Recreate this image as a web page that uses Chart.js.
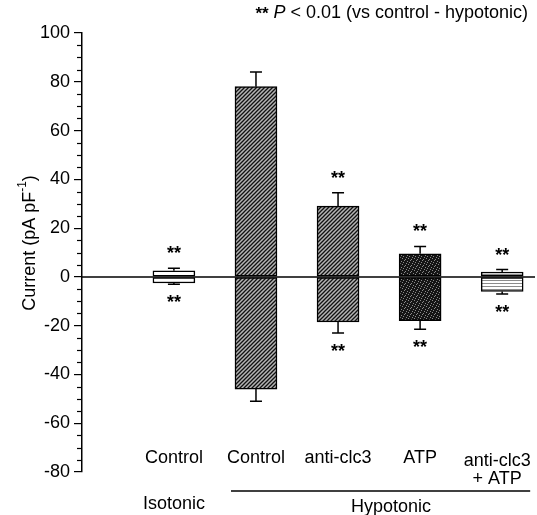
<!DOCTYPE html>
<html>
<head>
<meta charset="utf-8">
<script src="https://cdn.jsdelivr.net/npm/chart.js@4"></script>
<style>
  body { margin: 0; background: #fff; }
  #wrap { width: 537px; height: 515px; }
</style>
</head>
<body>
<div id="wrap"><canvas id="chart" width="537" height="515"></canvas></div>
<script>
const categories = ["Control", "Control", "anti-clc3", "ATP", ["anti-clc3", "+ ATP"]];
const outward = [2.5, 78, 29, 9.5, 2];
const outwardErr = [3.5, 84, 34.5, 12.5, 3];
const inward = [-2.5, -46, -18.5, -18, -6];
const inwardErr = [-3, -51, -23, -21.5, -7];
const significant = [true, false, true, true, true];
const yMin = -80, yMax = 100, yStep = 20, yMinor = 5;

const FONT = '"Liberation Sans", Arial, sans-serif';

function makePattern(kind) {
    const c = document.createElement("canvas");
    const ctx = c.getContext("2d");
    if (kind === "hatch") {
        c.width = 4; c.height = 4;
        ctx.fillStyle = "#b4b4b4";
        ctx.fillRect(0, 0, 4, 4);
        ctx.strokeStyle = "#111";
        ctx.lineWidth = 1.3;
        ctx.beginPath();
        ctx.moveTo(-1, 5); ctx.lineTo(5, -1);
        ctx.moveTo(-1, 1); ctx.lineTo(1, -1);
        ctx.moveTo(3, 5); ctx.lineTo(5, 3);
        ctx.stroke();
    } else if (kind === "dark") {
        c.width = 6; c.height = 6;
        ctx.fillStyle = "#151515";
        ctx.fillRect(0, 0, 6, 6);
        ctx.fillStyle = "#8a8a8a";
        [[0, 0], [3, 1], [5, 3], [1, 4], [4, 5], [2, 2]].forEach(p => ctx.fillRect(p[0], p[1], 1, 1));
    } else if (kind === "lines") {
        c.width = 4; c.height = 3;
        ctx.fillStyle = "#fff";
        ctx.fillRect(0, 0, 4, 3);
        ctx.fillStyle = "#8c8c8c";
        ctx.fillRect(0, 1, 4, 1);
    } else {
        return "#fff";
    }
    return ctx.createPattern(c, "repeat");
}

const fills = [makePattern("white"), makePattern("hatch"), makePattern("hatch"), makePattern("dark"), makePattern("lines")];

const extras = {
    id: "extras",
    afterDatasetsDraw(chart) {
        const { ctx, chartArea, scales: { x, y } } = chart;
        ctx.save();
        // zero line
        ctx.strokeStyle = "#000";
        ctx.lineWidth = 1.5;
        ctx.beginPath();
        ctx.moveTo(chartArea.left, y.getPixelForValue(0));
        ctx.lineTo(chartArea.right, y.getPixelForValue(0));
        ctx.stroke();

        // error bars + stars
        ctx.lineWidth = 1.5;
        ctx.font = "bold 18px " + FONT;
        ctx.textAlign = "center";
        ctx.textBaseline = "middle";
        ctx.fillStyle = "#000";
        categories.forEach((c, i) => {
            const px = x.getPixelForValue(i);
            [[outward[i], outwardErr[i]], [inward[i], inwardErr[i]]].forEach(([v, e]) => {
                const y0 = y.getPixelForValue(v), y1 = y.getPixelForValue(e);
                ctx.beginPath();
                ctx.moveTo(px, y0); ctx.lineTo(px, y1);
                ctx.moveTo(px - 6, y1); ctx.lineTo(px + 6, y1);
                ctx.stroke();
            });
            if (significant[i]) {
                ctx.fillText("**", px, y.getPixelForValue(outwardErr[i]) - 14);
                ctx.fillText("**", px, y.getPixelForValue(inwardErr[i]) + 19);
            }
        });
        ctx.restore();
    },
    afterDraw(chart) {
        const { ctx, chartArea, scales: { x, y } } = chart;
        ctx.save();
        ctx.fillStyle = "#000";
        ctx.strokeStyle = "#000";

        // minor ticks
        ctx.lineWidth = 1.2;
        for (let v = yMin; v <= yMax; v += yMinor) {
            if (v % yStep === 0) continue;
            const py = Math.round(y.getPixelForValue(v)) + 0.5;
            ctx.beginPath();
            ctx.moveTo(chartArea.left - 5, py);
            ctx.lineTo(chartArea.left, py);
            ctx.stroke();
        }

        // y title with superscript
        ctx.save();
        ctx.translate(30, 243);
        ctx.rotate(-Math.PI / 2);
        ctx.textBaseline = "middle";
        const a = "Current (pA pF", sup = "-1", b = ")";
        ctx.font = "18px " + FONT;
        const wa = ctx.measureText(a).width, wb = ctx.measureText(b).width;
        ctx.font = "12px " + FONT;
        const ws = ctx.measureText(sup).width;
        let sx = -(wa + ws + wb) / 2;
        ctx.font = "18px " + FONT;
        ctx.textAlign = "left";
        ctx.fillText(a, sx, 0);
        ctx.font = "12px " + FONT;
        ctx.fillText(sup, sx + wa, -7);
        ctx.font = "18px " + FONT;
        ctx.fillText(b, sx + wa + ws, 0);
        ctx.restore();

        // category labels
        ctx.font = "18px " + FONT;
        ctx.textAlign = "center";
        ctx.textBaseline = "middle";
        categories.forEach((c, i) => {
            const px = x.getPixelForValue(i);
            const lines = Array.isArray(c) ? c : [c];
            const cx = lines.length > 1 ? px - 5 : px;
            lines.forEach((t, k) => ctx.fillText(t, cx, (lines.length > 1 ? 461 : 458) + k * 18));
        });

        // group labels
        ctx.fillText("Isotonic", x.getPixelForValue(0), 504);
        ctx.fillText("Hypotonic", (x.getPixelForValue(1) + x.getPixelForValue(4)) / 2 + 12, 507);
        ctx.lineWidth = 1.5;
        ctx.beginPath();
        ctx.moveTo(x.getPixelForValue(1) - 25, 491);
        ctx.lineTo(x.getPixelForValue(4) + 28, 491);
        ctx.stroke();

        // significance note
        const p1 = "** ", p2 = "P", p3 = " < 0.01 (vs control - hypotonic)";
        ctx.textAlign = "left";
        ctx.font = "bold 17px " + FONT;
        const w1 = ctx.measureText(p1).width;
        ctx.font = "italic 18px " + FONT;
        const w2 = ctx.measureText(p2).width;
        ctx.font = "18px " + FONT;
        const w3 = ctx.measureText(p3).width;
        let tx = 528 - (w1 + w2 + w3);
        ctx.font = "bold 17px " + FONT;
        ctx.fillText(p1, tx, 14);
        ctx.font = "italic 18px " + FONT;
        ctx.fillText(p2, tx + w1, 13);
        ctx.font = "18px " + FONT;
        ctx.fillText(p3, tx + w1 + w2, 13);
        ctx.restore();
    }
};

const idx = categories.map((c, i) => i);

new Chart(document.getElementById("chart"), {
    type: "bar",
    data: {
        datasets: [
            {
                label: "Outward",
                data: idx.map(i => ({ x: i, y: [0, outward[i]] })),
                backgroundColor: fills,
                borderColor: "#000",
                borderWidth: 1.5,
                borderSkipped: false,
                barThickness: 42,
                grouped: false
            },
            {
                label: "Inward",
                data: idx.map(i => ({ x: i, y: [inward[i], 0] })),
                backgroundColor: fills,
                borderColor: "#000",
                borderWidth: 1.5,
                borderSkipped: false,
                barThickness: 42,
                grouped: false
            }
        ]
    },
    options: {
        responsive: false,
        animation: false,
        devicePixelRatio: 1,
        layout: { padding: { top: 33, bottom: 43, left: 0, right: 2 } },
        plugins: { legend: { display: false }, tooltip: { enabled: false } },
        scales: {
            x: {
                type: "linear",
                min: -1.12,
                max: 4.4,
                offset: false,
                display: false
            },
            y: {
                min: yMin,
                max: yMax,
                afterFit(scale) { scale.width = 82; },
                border: { display: true, color: "#000", width: 1.5 },
                grid: { drawOnChartArea: false, tickLength: 8, color: "#000", lineWidth: 1.2 },
                ticks: {
                    stepSize: yStep,
                    color: "#000",
                    padding: 4,
                    font: { family: FONT, size: 18 }
                }
            }
        }
    },
    plugins: [extras]
});
</script>
</body>
</html>
